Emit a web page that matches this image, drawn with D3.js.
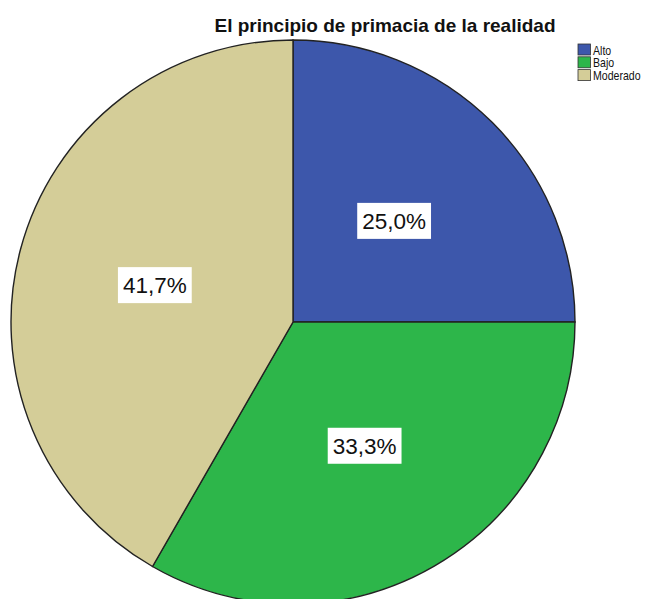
<!DOCTYPE html>
<html>
<head>
<meta charset="utf-8">
<script src="https://cdn.jsdelivr.net/npm/d3@7"></script>
<style>
  body { margin: 0; background: #fff; }
  svg { display: block; font-family: "Liberation Sans", Arial, sans-serif; }
</style>
</head>
<body>
<svg id="chart" width="654" height="599"></svg>
<script>
// data
const categories = ["Alto", "Bajo", "Moderado"];
const percents = [25.0, 33.3, 41.7];
const labels = ["25,0%", "33,3%", "41,7%"];
const colors = ["#3d57ab", "#2db64a", "#d4cd98"];

const width = 654, height = 599;
const cx = 293, cy = 322, radius = 282;

const svg = d3.select("#chart");

// title
svg.append("text")
    .attr("x", 385)
    .attr("y", 32)
    .attr("text-anchor", "middle")
    .attr("font-size", 19)
    .attr("font-weight", "bold")
    .attr("fill", "#111")
    .text("El principio de primacia de la realidad");

// pie
const pie = d3.pie().sort(null).value(d => d);
const arcs = pie(percents);
const arc = d3.arc().innerRadius(0).outerRadius(radius);
const labelArc = d3.arc().innerRadius(143).outerRadius(143);

const g = svg.append("g")
    .attr("transform", `translate(${cx},${cy})`);

g.selectAll("path.slice")
    .data(arcs)
    .join("path")
    .attr("class", "slice")
    .attr("d", arc)
    .attr("fill", (d, i) => colors[i])
    .attr("stroke", "#222")
    .attr("stroke-width", 1.4);

// value labels with white boxes
const lab = g.selectAll("g.lab")
    .data(arcs)
    .join("g")
    .attr("class", "lab")
    .attr("transform", d => `translate(${labelArc.centroid(d)})`);

lab.append("rect")
    .attr("fill", "#fff");

const txt = lab.append("text")
    .attr("text-anchor", "middle")
    .attr("dy", "0.36em")
    .attr("font-size", 22.5)
    .attr("fill", "#111")
    .text((d, i) => labels[i]);

txt.each(function(d) {
    const w = this.getComputedTextLength();
    d3.select(this.parentNode).select("rect")
        .attr("x", -w / 2 - 5)
        .attr("y", -18)
        .attr("width", w + 10)
        .attr("height", 36);
});

// legend
const legend = svg.append("g")
    .attr("transform", "translate(578,44)");

const item = legend.selectAll("g")
    .data(categories)
    .join("g")
    .attr("transform", (d, i) => `translate(0,${i * 12.8})`);

item.append("rect")
    .attr("width", 12.5)
    .attr("height", 11)
    .attr("fill", (d, i) => colors[i])
    .attr("stroke", "#333")
    .attr("stroke-width", 0.8);

item.append("text")
    .attr("transform", "translate(15,10.5) scale(0.88,1)")
    .attr("font-size", 12)
    .attr("fill", "#111")
    .text(d => d);
</script>
</body>
</html>
